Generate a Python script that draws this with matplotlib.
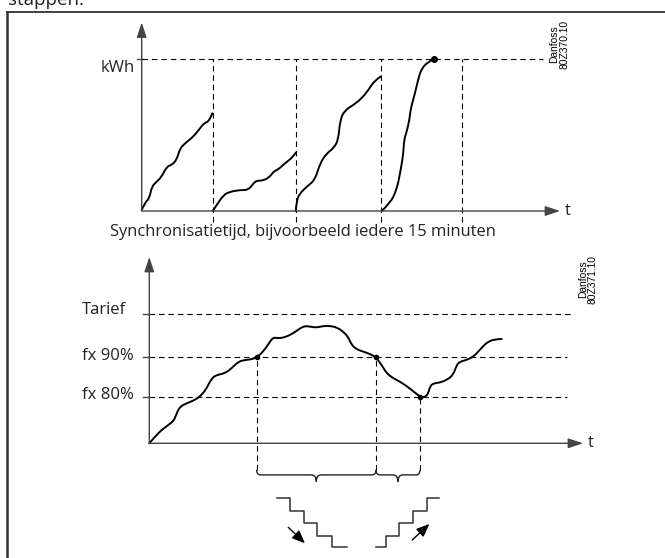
import numpy as np
import matplotlib.pyplot as plt
from matplotlib.path import Path
from matplotlib.patches import PathPatch
from matplotlib.lines import Line2D

plt.rcParams['font.family'] = ['Open Sans', 'DejaVu Sans']

# --- top chart: energy per synchronisation period (% of kWh limit) ---
sync_x = [71, 154, 239, 320]
kwh_level = 100

c1_x = [0, 3.3, 7.7, 10, 15, 20, 25, 30, 35, 38.3, 43.3, 51.7, 58.3, 62.3, 67.7, 70.7]
c1_y = [0.7, 5.5, 8.3, 16, 19.3, 22.6, 29.2, 30.3, 33.6, 41.2, 44.5, 48.9, 54.4, 57.7, 59.2, 64.3]
c2_x = [71, 75, 81.7, 88.3, 98.3, 106.7, 111.7, 115, 121.7, 128.3, 131.7, 136.7, 143.3, 151.7, 154]
c2_y = [0, 3.9, 10.5, 12.7, 13.8, 13.8, 18.2, 20, 20, 22.6, 25.9, 27.4, 31.4, 35.7, 38.4]
c3_x = [154, 155, 158.3, 165, 173.3, 178.3, 185, 191.7, 196.7, 198.3, 203.3, 211.7, 220, 226.7, 233.3, 239]
c3_y = [0, 7.2, 11.6, 16, 20.4, 31.4, 37.9, 41.2, 46.7, 59.9, 66.4, 69.7, 74.1, 79.6, 86.2, 88.4]
c4_x = [240, 248.3, 255, 259, 261.7, 262.3, 265, 267.7, 269, 273.3, 276.7, 280, 286.7, 292.3]
c4_y = [0, 5, 13.8, 27, 37.9, 46.7, 52.2, 59.9, 67.5, 77.4, 87.3, 93.9, 98.2, 100]

# --- bottom chart: power as % of tariff ---
tarief = 101
levels = [90, 80]
level_labels = ['fx 90%', 'fx 80%']
p_x = [0, 5.67, 12.33, 19, 24.67, 27.33, 30.67, 37.33, 45.67, 52.33, 57.33, 62.33, 67.33,
       75.67, 82.33, 89, 95.67, 102.33, 107.33, 114, 120.67, 124, 129, 135.67, 144, 150.67,
       155.67, 160.67, 167.33, 174, 180.67, 187.33, 194, 199, 202.33, 207.33, 214, 220.67,
       226.67, 232.33, 237.33, 244, 252.33, 259, 265.67, 270.67, 275.67, 279, 280.67, 284,
       290.67, 297.33, 304, 307.33, 310.67, 317.33, 324, 329, 334, 339, 345.67, 352.33]
p_y = [68.14, 69.83, 71.53, 72.8, 73.9, 75.76, 77.46, 78.31, 79.15, 80.42, 82.12, 84.66, 85.51,
       85.93, 87.2, 88.9, 89.32, 89.49, 90.0, 91.44, 93.98, 95.08, 94.83, 95.08, 96.1, 97.37,
       97.97, 97.8, 97.54, 97.97, 97.97, 97.63, 96.53, 95.08, 93.14, 92.03, 91.44, 90.85,
       90.0, 88.05, 85.93, 84.66, 83.56, 82.37, 81.02, 80.0, 79.83, 80.85, 82.54, 83.39,
       83.56, 84.24, 85.51, 88.05, 88.9, 89.32, 90.17, 91.44, 92.88, 94.0, 94.58, 94.66]
cross_x = [107.33, 226.67, 270.67]
cross_y = [90, 90, 80]

# --- step symbols (steps down / steps up) ---
down_x = [0, 0.91, 0.91, 1.92, 1.92, 2.88, 2.88, 3.91, 3.91, 4.99]
down_y = [4, 4, 2.99, 2.99, 1.96, 1.96, 0.95, 0.95, 0, 0]
up_x = [7.1, 7.82, 7.82, 8.78, 8.78, 9.78, 9.78, 10.75, 10.75, 11.65]
up_y = [0, 0, 0.95, 0.95, 1.96, 1.96, 2.99, 2.99, 4, 4]

W, H = 665, 558
fig = plt.figure(figsize=(W / 100, H / 100), dpi=100)


def px_axes(x0, y_top, x1, y_bot):
    return fig.add_axes([x0 / W, 1 - y_bot / H, (x1 - x0) / W, (y_bot - y_top) / H])


def smooth_curve(ax, xs, ys, **kw):
    # quadratic bezier through midpoints, the points act as control points
    pts = list(zip(xs, ys))
    verts = [pts[0]]
    codes = [Path.MOVETO]
    for i in range(1, len(pts) - 1):
        mid = ((pts[i][0] + pts[i + 1][0]) / 2, (pts[i][1] + pts[i + 1][1]) / 2)
        if i == len(pts) - 2:
            mid = pts[-1]
        verts += [pts[i], mid]
        codes += [Path.CURVE3, Path.CURVE3]
    ax.add_patch(PathPatch(Path(verts, codes), fill=False, clip_on=False, **kw))


axis_col = '#444444'
txt_col = '#222222'
dash = dict(color='black', lw=0.8, linestyle=(0, (5, 3.5)))
arrow = dict(arrowstyle='-|>,head_length=0.6,head_width=0.2', color=axis_col, lw=1,
             mutation_scale=15, shrinkA=0, shrinkB=0)

# frame and cut-off heading
fig.add_artist(Line2D([7 / W, 7 / W], [0, 1 - 12 / H], color='#333333', lw=1.8))
fig.add_artist(Line2D([7 / W, 1], [1 - 12 / H, 1 - 12 / H], color='#333333', lw=1.3))
fig.text(8 / W, 1 - 5 / H, 'stappen.', fontsize=13.5, ha='left', va='baseline', color=txt_col)

# ---------------- top chart ----------------
ax1 = px_axes(141.7, 20, 561.7, 211)
ax1.set_xlim(0, 420)
ax1.set_ylim(0, 125.66)
ax1.axis('off')

ax1.annotate('', xy=(418.3, 0), xytext=(0, 0), arrowprops=arrow, annotation_clip=False)
ax1.annotate('', xy=(0, 124), xytext=(0, 0), arrowprops=arrow, annotation_clip=False)
ax1.plot([-5, 0], [kwh_level, kwh_level], color=axis_col, lw=1, clip_on=False)
ax1.plot([0, 401.7], [kwh_level, kwh_level], **dash, clip_on=False)
for sx in sync_x:
    ax1.plot([sx, sx], [-7, kwh_level], **dash, clip_on=False)

for cx, cy in [(c1_x, c1_y), (c2_x, c2_y), (c3_x, c3_y), (c4_x, c4_y)]:
    smooth_curve(ax1, cx, cy, lw=1.4, edgecolor='black', capstyle='round')
ax1.plot(c4_x[-1], c4_y[-1], 'o', color='black', ms=4, clip_on=False)

ax1.text(-6.7, 94, 'kWh', ha='right', va='center', fontsize=12, color=txt_col)
ax1.text(423, 0, 't', ha='left', va='center', fontsize=12, color=txt_col)
ax1.text(161, -14, 'Synchronisatietijd, bijvoorbeeld iedere 15 minuten', ha='center',
         va='center', fontsize=11.9, color=txt_col)

fig.text(559 / W, 1 - 44 / H, 'Danfoss\n80Z370.10', rotation=90, ha='center', va='center',
         fontsize=7.4, family='Liberation Sans', linespacing=1.0)
fig.text(588 / W, 1 - 279 / H, 'Danfoss\n80Z371.10', rotation=90, ha='center', va='center',
         fontsize=7.4, family='Liberation Sans', linespacing=1.0)

# ---------------- bottom chart ----------------
ax2 = px_axes(149.3, 257, 589.3, 550)
ax2.set_xlim(0, 440)
ax2.set_ylim(68.14 - (550 - 443.3) / 3.933, 115.5)
ax2.axis('off')
y0 = 68.14

ax2.annotate('', xy=(433.7, y0), xytext=(0, y0), arrowprops=arrow, annotation_clip=False)
ax2.annotate('', xy=(0, 115.5), xytext=(0, y0), arrowprops=arrow, annotation_clip=False)
ax2.text(438, y0, 't', ha='left', va='center', fontsize=12, color=txt_col)

ax2.plot([-6, 0], [tarief, tarief], color=axis_col, lw=1, clip_on=False)
ax2.plot([0, 420.7], [tarief, tarief], **dash, clip_on=False)
ax2.text(-67.3, tarief + 1, 'Tarief', ha='left', va='center', fontsize=12, color=txt_col)
for lv, lab in zip(levels, level_labels):
    ax2.plot([-6, 0], [lv, lv], color=axis_col, lw=1, clip_on=False)
    ax2.plot([0, 417.4], [lv, lv], **dash, clip_on=False)
    ax2.text(-67.3, lv + 0.4, lab, ha='left', va='center', fontsize=12, color=txt_col)

smooth_curve(ax2, p_x, p_y, lw=1.4, edgecolor='black', capstyle='round')
ax2.plot(cross_x, cross_y, 'o', color='black', ms=3, clip_on=False)

yh = 60.1
for cx, cy in zip(cross_x, cross_y):
    ax2.plot([cx, cx], [yh + 1.3, cy], **dash, clip_on=False)


def brace(xa, xb):
    xm = (xa + xb) / 2
    verts = [(xa, yh + 1.3), (xa, yh), (xa + 4, yh), (xm - 5, yh), (xm, yh), (xm, yh - 1.7),
             (xm, yh), (xm + 5, yh), (xb - 4, yh), (xb, yh), (xb, yh + 1.3)]
    codes = [Path.MOVETO, Path.CURVE3, Path.CURVE3, Path.LINETO, Path.CURVE3, Path.CURVE3,
             Path.CURVE3, Path.CURVE3, Path.LINETO, Path.CURVE3, Path.CURVE3]
    ax2.add_patch(PathPatch(Path(verts, codes), fill=False, lw=1, edgecolor=txt_col,
                            clip_on=False))


brace(cross_x[0], cross_x[1])
brace(cross_x[1], cross_x[2])

# ---------------- step symbols ----------------
ax3 = px_axes(277.3, 498.3, 277.3 + 13.9 * 12, 547.3)
ax3.set_xlim(0, 12)
ax3.set_ylim(0, 4)
ax3.axis('off')
ax3.plot(down_x, down_y, color='#333333', lw=1.1, clip_on=False)
ax3.plot(up_x, up_y, color='#333333', lw=1.1, clip_on=False)
small_arrow = dict(arrowstyle='-|>,head_length=0.6,head_width=0.25', color='black', lw=1,
                   mutation_scale=13, shrinkA=0, shrinkB=0)
ax3.annotate('', xy=(1.99, 0.33), xytext=(0.79, 1.63), arrowprops=small_arrow,
             annotation_clip=False)
ax3.annotate('', xy=(10.94, 1.9), xytext=(9.71, 0.6), arrowprops=small_arrow,
             annotation_clip=False)

fig.savefig('out.png', dpi=100)
